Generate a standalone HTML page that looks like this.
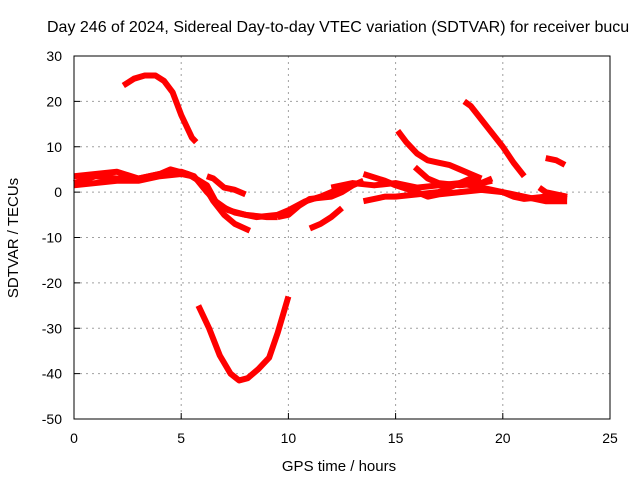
<!DOCTYPE html>
<html><head><meta charset="utf-8"><style>
body{margin:0;background:#fff}
svg text{font-family:"Liberation Sans",sans-serif;font-size:14px;fill:#000}
</style></head><body>
<svg id="chart" width="640" height="480">
<text x="47" y="32" style="font-size:16px">Day 246 of 2024, Sidereal Day-to-day VTEC variation (SDTVAR) for receiver bucu</text>
<text x="339" y="471" style="font-size:15px" text-anchor="middle">GPS time / hours</text>
<text transform="translate(18,238) rotate(-90)" style="font-size:15px" text-anchor="middle">SDTVAR / TECUs</text>
<g id="grid"></g><g id="series"></g>
<rect x="74" y="56" width="536" height="363" fill="none" stroke="#000" stroke-width="1"/>
</svg>
<script>
const xTicks=[0,5,10,15,20,25];
const yTicks=[30,20,10,0,-10,-20,-30,-40,-50];
const s1=[[2.3,23.5],[2.8,25],[3.3,25.7],[3.8,25.7],[4.2,24.5],[4.6,22],[5.0,17],[5.5,12],[5.7,11]];
const s2=[[5.8,-25],[6.3,-30],[6.8,-36],[7.3,-40],[7.7,-41.5],[8.1,-41],[8.6,-39],[9.1,-36.5],[9.5,-31],[10,-23]];
const s3=[[0,2],[1,3.5],[2,3],[3,3],[4,4],[5,4.5],[5.6,3.5],[6.2,0],[6.8,-3],[7.5,-4.5],[8.5,-5.5],[9.5,-5],[10,-4],[10.8,-2],[11.5,-1],[12.5,1],[13,1.5]];
const s4=[[0,3.5],[1,4],[2,4.5],[3,3],[4,4],[4.5,5],[5.3,4],[6,2],[6.5,-2],[7,-5],[7.5,-7],[8.2,-8.5]];
const s5=[[0,1.5],[1,2],[2,2.5],[3,2.5],[4,3.5],[5,4],[5.5,3.5],[6.2,1.5],[6.6,-2],[7.2,-4],[8,-5],[9,-5.5],[9.5,-5.5]];
const s6=[[6.2,3.5],[6.5,3],[7,1],[7.5,0.5],[8,-0.5]];
const s7=[[9.5,-5.5],[10,-5],[10.5,-3],[11,-1.5],[12,-1],[12.5,0],[13,1.5],[13.5,2.5]];
const s8=[[11,-8],[11.5,-7],[12,-5.5],[12.5,-3.5]];
const s9=[[12,1],[13,2],[14,1.5],[15,2],[16,1],[17,1.5],[18,2],[19,1],[20,0],[20.5,-1],[21,-1.5],[22,-1],[23,-1.5]];
const s10=[[13.5,4],[14.5,2.5],[15,1.5],[16,0],[16.5,-1],[17,-0.5],[18,0],[19,0.5],[20,0],[21,-1],[22,-2],[23,-2]];
const s11=[[13.5,-2],[14.5,-1],[15,-1],[16,-0.5],[17,0],[17.5,1],[18,2],[18.5,3],[19,2],[19.5,2.5]];
const s12=[[15.1,13.5],[15.5,11],[16,8.5],[16.5,7],[17,6.5],[17.5,6],[18,5],[18.5,4],[19,3]];
const s13=[[15.9,5.5],[16.5,3],[17,2],[18,1.5],[19,2],[19.5,3]];
const s14=[[18.2,20],[18.5,19],[19,16],[19.5,13],[20,10],[20.5,6.5],[21,3.5]];
const s15=[[22,7.5],[22.5,7],[22.9,6]];
const s16=[[21.7,1],[22,0],[22.5,-0.5],[23,-1]];
const allSeries=[s1,s2,s3,s4,s5,s6,s7,s8,s9,s10,s11,s12,s13,s14,s15,s16];
const X=h=>74+h*536/25, Y=v=>56+(30-v)*363/80;
const NS="http://www.w3.org/2000/svg";
const grid=document.getElementById('grid'), ser=document.getElementById('series'), svg=document.getElementById('chart');
xTicks.forEach(t=>{
  if(t>0&&t<25){const l=document.createElementNS(NS,'line');
  
  
  l.setAttribute('x1',X(t));l.setAttribute('x2',X(t));l.setAttribute('y1',56);l.setAttribute('y2',419);
  l.setAttribute('stroke','#a0a0a0');l.setAttribute('stroke-dasharray','2,4');grid.appendChild(l);}
  const k=document.createElementNS(NS,'line');
  
  
  k.setAttribute('x1',X(t));k.setAttribute('x2',X(t));k.setAttribute('y1',419);k.setAttribute('y2',413);k.setAttribute('stroke','#000');grid.appendChild(k);
  const tx=document.createElementNS(NS,'text');
  
  
  tx.setAttribute('x',X(t));tx.setAttribute('y',443);tx.setAttribute('text-anchor','middle');tx.textContent=t;svg.appendChild(tx);
});
yTicks.forEach(t=>{
  if(t<30&&t>-50){const l=document.createElementNS(NS,'line');
  
  
  l.setAttribute('x1',74);l.setAttribute('x2',610);l.setAttribute('y1',Y(t));l.setAttribute('y2',Y(t));
  l.setAttribute('stroke','#a0a0a0');l.setAttribute('stroke-dasharray','2,4');grid.appendChild(l);}
  const k=document.createElementNS(NS,'line');
  
  
  k.setAttribute('x1',74);k.setAttribute('x2',80);k.setAttribute('y1',Y(t));k.setAttribute('y2',Y(t));k.setAttribute('stroke','#000');grid.appendChild(k);
  const tx=document.createElementNS(NS,'text');
  
  
  tx.setAttribute('x',62);tx.setAttribute('y',Y(t)+5);tx.setAttribute('text-anchor','end');tx.textContent=t;svg.appendChild(tx);
});
allSeries.forEach(s=>{
  const p=document.createElementNS(NS,'polyline');
  
  
  p.setAttribute('points',s.map(d=>X(d[0])+','+Y(d[1])).join(' '));
  p.setAttribute('fill','none');p.setAttribute('stroke','#ff0000');p.setAttribute('stroke-width','6');p.setAttribute('stroke-linejoin','round');
  ser.appendChild(p);
});
</script>
</body></html>
